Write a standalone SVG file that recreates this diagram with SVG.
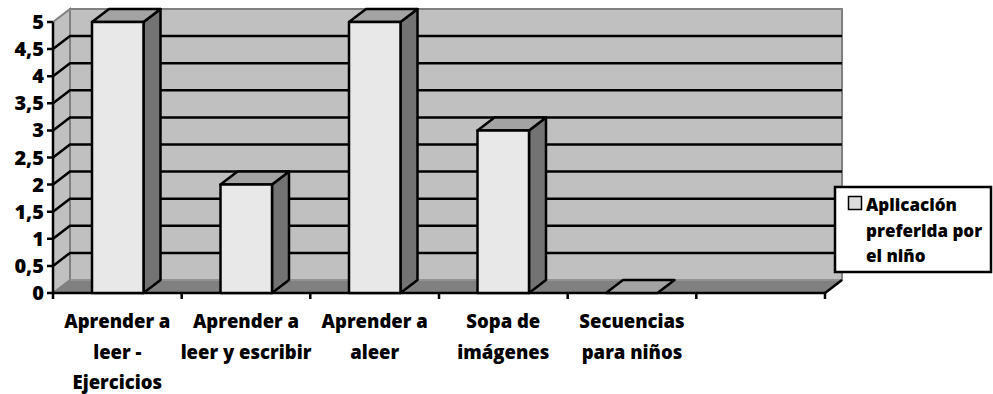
<svg xmlns="http://www.w3.org/2000/svg" width="993" height="394" viewBox="0 0 993 394">
<style>
.wall{fill:#c0c0c0;stroke:#808080;stroke-width:2}
.floor{fill:#808080;stroke:none}
.grid{fill:none;stroke:#000;stroke-width:2.5}
.ax{fill:none;stroke:#000;stroke-width:2.5}
.front{fill:#e8e8e8;stroke:#000;stroke-width:2.5;stroke-linejoin:round}
.top{fill:#a3a3a3;stroke:#000;stroke-width:2.5;stroke-linejoin:round}
.side{fill:#737373;stroke:#000;stroke-width:2.5;stroke-linejoin:round}
.yl{font-family:"Open Sans","Liberation Sans",sans-serif;font-weight:800;font-size:20px;fill:#000;text-anchor:end}
.cl{font-family:"Open Sans","Liberation Sans",sans-serif;font-weight:800;font-size:18.5px;fill:#000;text-anchor:middle}
.lg{font-family:"Open Sans","Liberation Sans",sans-serif;font-weight:800;font-size:17px;fill:#000}
</style>
<g id="walls">
<polygon class="wall" points="70,9 842,9 842,280 70,280"/>
<polygon class="wall" points="53,22 70,9 70,280 53,293"/>
<polygon class="floor" points="53,293 825,293 842,280 70,280"/>
<line x1="70" y1="280" x2="842" y2="280" stroke="#9a9a9a" stroke-width="1.5"/>
</g>
<g id="gridlines">
<path class="grid" d="M53,265.9L70,252.9L842,252.9"/>
<path class="grid" d="M53,238.8L70,225.8L842,225.8"/>
<path class="grid" d="M53,211.7L70,198.7L842,198.7"/>
<path class="grid" d="M53,184.6L70,171.6L842,171.6"/>
<path class="grid" d="M53,157.5L70,144.5L842,144.5"/>
<path class="grid" d="M53,130.4L70,117.4L842,117.4"/>
<path class="grid" d="M53,103.3L70,90.3L842,90.3"/>
<path class="grid" d="M53,76.2L70,63.2L842,63.2"/>
<path class="grid" d="M53,49.1L70,36.1L842,36.1"/>
</g>
<g id="axes">
<line class="ax" x1="53" y1="22" x2="53" y2="294"/>
<line class="ax" x1="52" y1="293" x2="826" y2="293"/>
<line class="ax" x1="825" y1="293" x2="842" y2="280"/>
<path class="ax" d="M47,293H53M47,265.9H53M47,238.8H53M47,211.7H53M47,184.6H53M47,157.5H53M47,130.4H53M47,103.3H53M47,76.2H53M47,49.1H53M47,22H53"/>
<path class="ax" d="M53,293V299M181.7,293V299M310.3,293V299M439,293V299M567.7,293V299M696.3,293V299M825,293V299"/>
</g>
<g id="y-labels">
<text class="yl" x="44" y="300">0</text>
<text class="yl" x="44" y="272.9">0,5</text>
<text class="yl" x="44" y="245.8">1</text>
<text class="yl" x="44" y="218.7">1,5</text>
<text class="yl" x="44" y="191.6">2</text>
<text class="yl" x="44" y="164.5">2,5</text>
<text class="yl" x="44" y="137.4">3</text>
<text class="yl" x="44" y="110.3">3,5</text>
<text class="yl" x="44" y="83.2">4</text>
<text class="yl" x="44" y="56.1">4,5</text>
<text class="yl" x="44" y="29">5</text>
</g>
<g id="bar-1">
<polygon class="side" points="143.5,22 160.5,9 160.5,280 143.5,293"/>
<polygon class="top" points="92,22 143.5,22 160.5,9 109,9"/>
<rect class="front" x="92" y="22" width="51.5" height="271"/>
</g>
<g id="bar-2">
<polygon class="side" points="272,184.6 289,171.6 289,280 272,293"/>
<polygon class="top" points="220.5,184.6 272,184.6 289,171.6 237.5,171.6"/>
<rect class="front" x="220.5" y="184.6" width="51.5" height="108.4"/>
</g>
<g id="bar-3">
<polygon class="side" points="400.5,22 417.5,9 417.5,280 400.5,293"/>
<polygon class="top" points="349,22 400.5,22 417.5,9 366,9"/>
<rect class="front" x="349" y="22" width="51.5" height="271"/>
</g>
<g id="bar-4">
<polygon class="side" points="529,130.4 546,117.4 546,280 529,293"/>
<polygon class="top" points="477.5,130.4 529,130.4 546,117.4 494.5,117.4"/>
<rect class="front" x="477.5" y="130.4" width="51.5" height="162.6"/>
</g>
<g id="bar-5">
<polygon class="top" points="606,293 657.5,293 674.5,280 623,280"/>
</g>
<g id="category-labels">
<text class="cl" x="117.3" y="328">Aprender a</text>
<text class="cl" x="117.3" y="359">leer -</text>
<text class="cl" x="117.3" y="389">Ejercicios</text>
<text class="cl" x="246" y="328">Aprender a</text>
<text class="cl" x="246" y="359">leer y escribir</text>
<text class="cl" x="374.7" y="328">Aprender a</text>
<text class="cl" x="374.7" y="359">aleer</text>
<text class="cl" x="503.3" y="328">Sopa de</text>
<text class="cl" x="503.3" y="359">imágenes</text>
<text class="cl" x="632" y="328">Secuencias</text>
<text class="cl" x="632" y="359">para niños</text>
</g>
<g id="legend">
<rect x="835" y="187" width="156" height="85" fill="#fff" stroke="#000" stroke-width="2.5"/>
<rect x="848.5" y="196.5" width="13" height="13" fill="#dcdcdc" stroke="#000" stroke-width="1.5"/>
<text class="lg" x="866" y="211">Aplicación</text>
<text class="lg" x="866" y="237">preferida por</text>
<text class="lg" x="866" y="262">el niño</text>
</g>
</svg>
